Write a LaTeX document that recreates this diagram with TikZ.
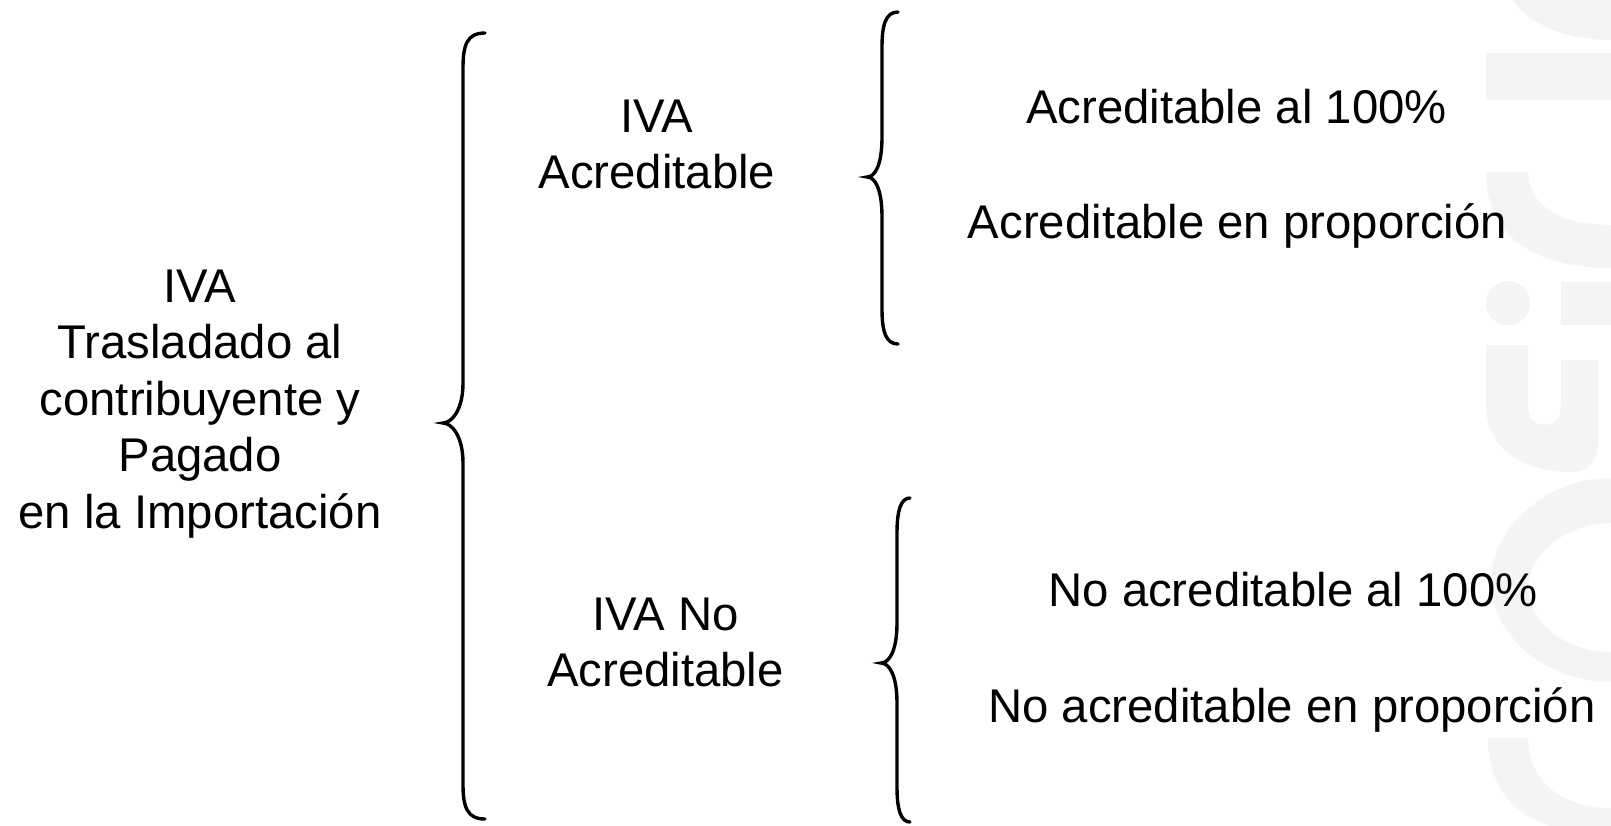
\documentclass[tikz,border=0pt]{standalone}
\usepackage{fontspec}
\setmainfont{Liberation Sans}
\definecolor{wm}{HTML}{F4F4F5}
\tikzset{
  bracestyle/.style={line width=3.4pt, black, line cap=round},
  lbl/.style={align=center, anchor=base, inner sep=0pt, font=\fontsize{47.3}{56.5}\selectfont},
  wmark/.style={fill=wm, draw=none}
}
\newcommand\mybrace[6]{%
  \draw[bracestyle] (#1,#4) .. controls ({#2+4},#4) and (#2,{#4+12}) .. (#2,{#4+35})
    -- (#2,{#5-40}) .. controls (#2,{#5-12}) and ({#3+8},#5) .. (#3,#5)
    .. controls ({#3+8},#5) and (#2,{#5+12}) .. (#2,{#5+40})
    -- (#2,{#6-35}) .. controls (#2,{#6-12}) and ({#2+4},#6) .. (#1,#6);}
\begin{document}
\begin{tikzpicture}[x=1pt,y=-1pt]
\useasboundingbox (0,0) rectangle (1611,825);
\fill[white] (0,0) rectangle (1611,825);
% watermark
\begin{scope}
\clip (0,0) rectangle (1611,825);
\fill[wmark] (1611,-20) ellipse [x radius=104, y radius=60];
\fill[wmark] (1486,53) rectangle (1611,100);
\fill[wmark] (1486,172) .. controls (1486,240) and (1540,268) .. (1611,268) -- (1611,225)
  .. controls (1560,225) and (1528,205) .. (1528,172) -- cycle;
\fill[wmark] (1508,303) circle [radius=22];
\fill[wmark] (1561,282) rectangle (1611,325);
\fill[wmark] (1486,345) -- (1486,405) .. controls (1486,450) and (1525,472) .. (1570,472)
  .. controls (1590,472) and (1598,460) .. (1598,440) -- (1598,360) -- (1561,360) -- (1561,405)
  .. controls (1561,418) and (1555,425) .. (1545,425) .. controls (1535,425) and (1528,418) .. (1528,405)
  -- (1528,345) -- cycle;
\fill[wmark, even odd rule] (1611,478) .. controls (1545,478) and (1491,530) .. (1491,580)
  .. controls (1491,635) and (1545,682) .. (1611,682) -- cycle
  (1611,523) .. controls (1565,523) and (1528,555) .. (1528,588)
  .. controls (1528,622) and (1565,652) .. (1611,652) -- cycle;
\fill[wmark] (1488,738) .. controls (1488,800) and (1530,835) .. (1611,835) -- (1611,808)
  .. controls (1560,808) and (1528,780) .. (1528,738) -- cycle;
\end{scope}
% texts (base anchor = baseline of the last line)
\node[lbl] (root) at (200,528) {IVA\\Trasladado al\\contribuyente y\\Pagado\\en la Importación};
\node[lbl] (acr) at (657,188.5) {IVA\\Acreditable};
\node[lbl] (noacr) at (665.5,686.5) {IVA No\\Acreditable};
\node[lbl] (a1) at (1236.5,123) {Acreditable al 100\%};
\node[lbl] (a2) at (1237.5,238) {Acreditable en proporción};
\node[lbl] (n1) at (1293,606) {No acreditable al 100\%};
\node[lbl] (n2) at (1292,722) {No acreditable en proporción};
% braces
\mybrace{485}{463}{443}{33}{423}{819}
\mybrace{898}{882}{867}{12}{177}{344}
\mybrace{910}{897}{881}{498}{663}{822}
\end{tikzpicture}
\end{document}
